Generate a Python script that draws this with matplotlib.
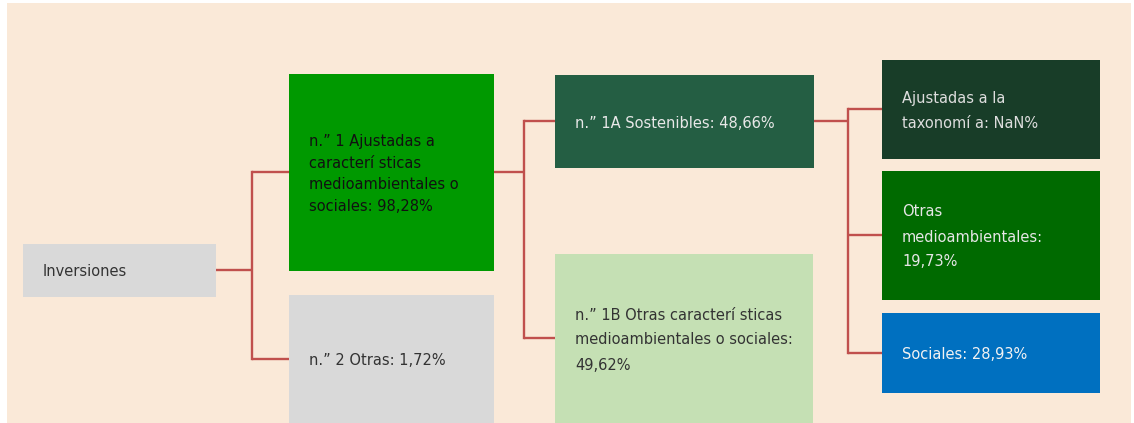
import matplotlib
matplotlib.use('Agg')
import matplotlib.pyplot as plt
from matplotlib.patches import Rectangle
import math

# Tree of investments: labels, values and links
node_ids = ['inv', 'n1', 'n2', 'n1a', 'n1b', 'tax', 'otras', 'soc']
node_labels = [
    'Inversiones',
    'n.” 1 Ajustadas a\ncaracterí sticas\nmedioambientales o\nsociales:',
    'n.” 2 Otras:',
    'n.” 1A Sostenibles:',
    'n.” 1B Otras caracterí sticas\nmedioambientales o sociales:',
    'Ajustadas a la\ntaxonomí a:',
    'Otras\nmedioambientales:',
    'Sociales:',
]
node_values = [None, 98.28, 1.72, 48.66, 49.62, float('nan'), 19.73, 28.93]
value_sep = ['', ' ', ' ', ' ', '\n', ' ', '\n', ' ']
links = {'inv': ['n1', 'n2'], 'n1': ['n1a', 'n1b'], 'n1a': ['tax', 'otras', 'soc']}

# layout in pixels (x0, y0, x1, y1), y grows downward
boxes = {
    'inv': (23, 244, 216, 297),
    'n1': (289, 74, 494, 271),
    'n2': (289, 295, 494, 423),
    'n1a': (555, 75, 814, 168),
    'n1b': (555, 254, 813, 423),
    'tax': (882, 60, 1100, 159),
    'otras': (882, 171, 1100, 300),
    'soc': (882, 313, 1100, 393),
}
bus_x = {'inv': 252, 'n1': 524, 'n1a': 848}
fills = {'inv': '#D9D9D9', 'n1': '#009900', 'n2': '#D9D9D9', 'n1a': '#245E43',
         'n1b': '#C5E0B4', 'tax': '#183D28', 'otras': '#006A00', 'soc': '#0070C0'}
text_colors = {'inv': '#333333', 'n1': '#111111', 'n2': '#333333', 'n1a': '#E8E8E8',
               'n1b': '#333333', 'tax': '#DDDDDD', 'otras': '#E6E6E6', 'soc': '#F2F2F2'}
line_pitch = {'n1': 21.7}
LINE_COLOR = '#C0504D'

fig = plt.figure(figsize=(11.34, 4.23), dpi=100)
fig.patch.set_facecolor('white')
ax = fig.add_axes([0, 0, 1, 1])
ax.set_xlim(0, 1134)
ax.set_ylim(423, 0)
ax.axis('off')

ax.add_patch(Rectangle((7, 3), 1124, 420, facecolor='#FAE9D8', edgecolor='none', zorder=0))


def fmt(v):
    if v is None:
        return ''
    if isinstance(v, float) and math.isnan(v):
        return 'NaN%'
    return f'{v:.2f}'.replace('.', ',') + '%'


# connectors
for parent, kids in links.items():
    px0, py0, px1, py1 = boxes[parent]
    pc = (py0 + py1) / 2
    bx = bus_x[parent]
    ax.plot([px1, bx], [pc, pc], color=LINE_COLOR, lw=1.7, zorder=1, solid_capstyle='butt')
    kid_c = [(boxes[k][1] + boxes[k][3]) / 2 for k in kids]
    ax.plot([bx, bx], [min(kid_c + [pc]), max(kid_c + [pc])], color=LINE_COLOR, lw=1.7, zorder=1)
    for k, c in zip(kids, kid_c):
        ax.plot([bx, boxes[k][0]], [c, c], color=LINE_COLOR, lw=1.7, zorder=1, solid_capstyle='butt')

# boxes and labels
for nid, label, val, sep in zip(node_ids, node_labels, node_values, value_sep):
    x0, y0, x1, y1 = boxes[nid]
    ax.add_patch(Rectangle((x0, y0), x1 - x0, y1 - y0, facecolor=fills[nid],
                           edgecolor='none', zorder=2))
    text = label + (sep + fmt(val) if val is not None else '')
    lines = text.split('\n')
    pitch = line_pitch.get(nid, 25)
    cy = (y0 + y1) / 2
    n = len(lines)
    for i, ln in enumerate(lines):
        ax.text(x0 + 20, cy + (i - (n - 1) / 2) * pitch, ln, ha='left', va='center_baseline',
                fontsize=10.5, family='DejaVu Sans', color=text_colors[nid], zorder=3)

fig.savefig('out.png', dpi=100)
